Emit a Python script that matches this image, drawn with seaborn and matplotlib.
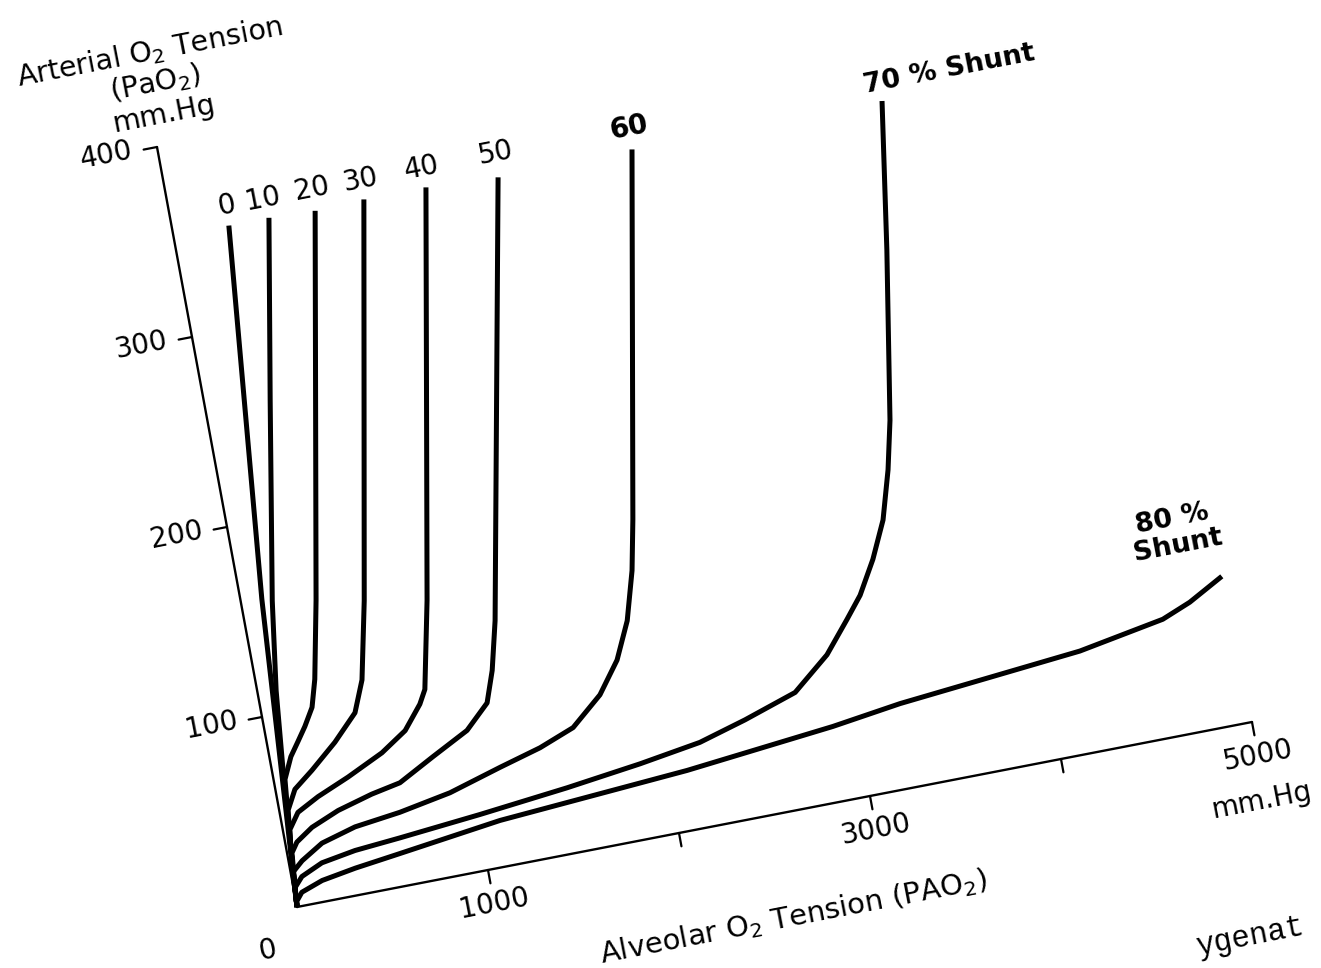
import matplotlib
matplotlib.use("Agg")
import matplotlib.pyplot as plt
import seaborn as sns
import pandas as pd
from matplotlib.transforms import Affine2D

shunt_levels = ["0", "10", "20", "30", "40", "50", "60", "70", "80"]

alv_0 = [0, 109, 290]
art_0 = [0, 160, 353]

alv_10 = [0, 23, 57, 96, 160, 336, 500]
art_10 = [0, 30, 71, 112, 158, 260, 353]

alv_20 = [0, 23, 58, 109, 159, 208, 262, 302, 382, 740]
art_20 = [0, 30, 66, 77, 84, 91, 100, 114, 154, 352]

alv_30 = [0, 23, 45, 99, 203, 345, 474, 540, 625, 997]
art_30 = [0, 30, 50, 60, 68, 80, 93, 109, 149, 353]

alv_40 = [0, 23, 36, 93, 209, 379, 573, 711, 810, 849, 943, 1322]
art_40 = [0, 30, 40, 48, 54, 61, 70, 79, 91, 98, 143, 353]

alv_50 = [0, 15, 25, 60, 150, 298, 483, 636, 827, 1024, 1151, 1207, 1268, 1696]
art_50 = [0, 17, 28, 33, 39, 45, 50, 53, 63, 73, 85, 101, 126, 351]

alv_60 = [0, 11, 69, 186, 368, 608, 880, 1157, 1377, 1563, 1729, 1848, 1936, 2007, 2059, 2399]
art_60 = [0, 18, 23, 30, 35, 38, 43, 51, 57, 64, 78, 94, 113, 138, 164, 352]

alv_70 = [0, 8, 53, 167, 346, 585, 1011, 1477, 1868, 2190, 2439, 2718, 2914, 3048,
          3137, 3235, 3323, 3395, 3451, 3594, 3708]
art_70 = [0, 10, 15, 20, 23, 25, 29, 34, 39, 44, 51, 60, 76, 92, 103, 120, 139, 164,
          189, 276, 352]

alv_80 = [0, 5, 38, 152, 331, 567, 1107, 2099, 2877, 3238, 4196, 4645, 4797, 4983]
art_80 = [0, 3, 7, 11, 14, 17, 24, 31, 39, 44, 53, 61, 67, 77]

x_ticks = [1000, 2000, 3000, 4000, 5000]
x_ticklabels = ["1000", "", "3000", "", "5000"]
y_ticks = [100, 200, 300, 400]
y_ticklabels = ["100", "200", "300", "400"]

curves = {
    "0": (alv_0, art_0), "10": (alv_10, art_10), "20": (alv_20, art_20),
    "30": (alv_30, art_30), "40": (alv_40, art_40), "50": (alv_50, art_50),
    "60": (alv_60, art_60), "70": (alv_70, art_70), "80": (alv_80, art_80),
}
rows = []
for s in shunt_levels:
    xs, ys = curves[s]
    for x, y in zip(xs, ys):
        rows.append({"shunt": s, "PAO2": x, "PaO2": y})
df = pd.DataFrame(rows)

sns.set_theme(style="white")
plt.rcParams["font.family"] = ["DejaVu Sans"]
plt.rcParams["mathtext.default"] = "regular"
plt.rcParams["text.color"] = "black"

fig = plt.figure(figsize=(13.21, 9.68), dpi=100)
ax = fig.add_axes([0, 0, 1, 1])
ax.set_xlim(0, 1321)
ax.set_ylim(968, 0)
ax.axis("off")

# the scanned page is skewed: map (PAO2, PaO2) onto the tilted axes
skew = Affine2D().from_values(0.191, -0.037, -0.35, -1.9, 297, 907)
trans = skew + ax.transData
ROT = 11

sns.lineplot(data=df, x="PAO2", y="PaO2", hue="shunt", hue_order=shunt_levels,
             palette=["black"] * len(shunt_levels), estimator=None, sort=False,
             legend=False, lw=3.6, solid_capstyle="butt", solid_joinstyle="round",
             ax=ax, transform=trans)

# axes
ax.plot([0, 5000], [0, 0], color="black", lw=1.7, transform=trans)
ax.plot([0, 0], [0, 400], color="black", lw=1.7, transform=trans)
for xt in x_ticks:
    ax.plot([xt, xt], [0, -7], color="black", lw=1.6, transform=trans)
for yt in y_ticks:
    ax.plot([0, -70], [yt, yt], color="black", lw=1.6, transform=trans)

tick_font = dict(fontsize=20, color="black", ha="center", va="center", rotation=ROT,
                 rotation_mode="anchor", transform=trans)
for xt, lab in zip(x_ticks, x_ticklabels):
    if lab:
        ax.text(xt, -17.5, lab, **tick_font)
for yt, lab in zip(y_ticks, y_ticklabels):
    ax.text(-262, yt + 1, lab, **tick_font)
ax.text(-190, -19, "0", **tick_font)
ax.text(4978, -41, "mm.Hg", **tick_font)
ax.text(2500, -54, r"Alveolar O$_2$ Tension (PAO$_2$)", **dict(tick_font, fontsize=21))

# y-axis title (pixel coordinates)
title_font = dict(fontsize=20.5, color="black", ha="center", va="center", rotation=ROT,
                  rotation_mode="anchor")
ax.text(150, 52, r"Arterial O$_2$ Tension", **title_font)
ax.text(156, 83, r"(PaO$_2$)", **title_font)
ax.text(164, 114, "mm.Hg", **title_font)

# curve labels
label_x = [295, 488, 744, 1000, 1320, 1708, 2404]
for s, lx in zip(shunt_levels[:7], label_x):
    ax.text(lx, 363.5, s, fontsize=20, color="black",
            fontweight="semibold" if s == "60" else "normal",
            ha="center", va="center", rotation=ROT, rotation_mode="anchor",
            transform=trans)
ax.text(4075, 361.5, "70 % Shunt", fontsize=19.5, color="black", fontweight="bold",
        ha="center", va="center", rotation=ROT, rotation_mode="anchor", transform=trans)
ax.text(4788, 104, "80 %\nShunt", fontsize=19.5, color="black", fontweight="bold",
        ha="center", va="center", rotation=ROT, rotation_mode="anchor", linespacing=1.05,
        multialignment="center", transform=trans)

# caption fragment from the next page line at the scan edge
ax.text(1198, 955, "ygenat", fontsize=22, color="black", family="Liberation Mono",
        ha="left", va="baseline", rotation=ROT, rotation_mode="anchor")

fig.savefig("out.png", dpi=100)
